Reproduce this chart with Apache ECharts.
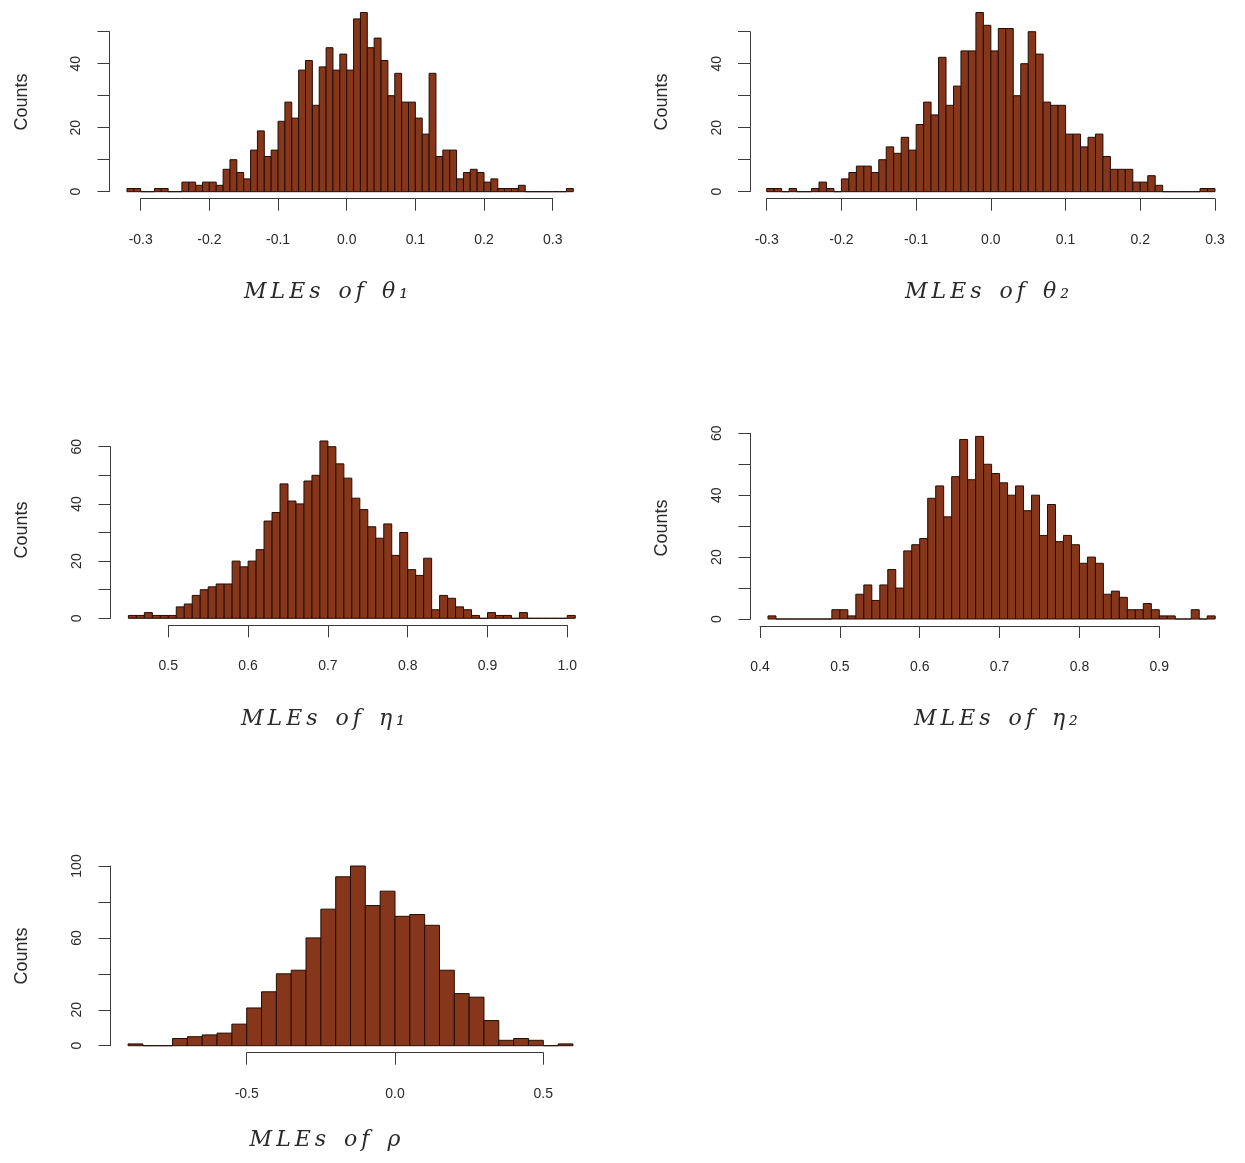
<!DOCTYPE html>
<html>
<head>
<meta charset="utf-8">
<title>MLEs</title>
<script src="https://cdn.jsdelivr.net/npm/echarts@6/dist/echarts.min.js"></script>
<style>
  body { margin: 0; background: #fff; }
  #grafico { width: 1245px; height: 1163px; }
</style>
</head>
<body>
<div id="grafico"></div>
<script>
// ---------------- DATOS ----------------
// Conteos por clase, leidos del histograma original
const conteosTheta1 = [1,1,0,0,1,1,0,0,3,3, 2,3,3,2,7,10,6,4,13,19, 11,13,22,28,23,38,41,27,39,45,
  38,43,38,54,56,45,48,41,30,37, 28,28,23,18,37,11,13,13,4,6, 7,6,3,4,1,1,1,2,0,0, 0,0,0,0,1];
const conteosTheta2 = [1,1,0,1,0,0,1,3,1,0, 4,6,8,8,6,10,14,12,17,13, 21,28,24,42,27,33,44,44,56,52,
  44,51,51,30,40,50,43,28,27,27, 18,18,14,17,18,11,7,7,7,3, 3,5,2,0,0,0,0,0,1,1];
const conteosEta1 = [1,1,2,1,1,1,4,5,8,10, 11,12,12,20,18,20,24,34,37,47, 41,40,48,50,62,60,54,49,42,38,
  32,28,33,22,30,17,15,21,3,8, 7,4,3,1,0,2,1,1,0,2, 0,0,0,0,0,1];
const conteosEta2 = [1,0,0,0,0,0,0,0,3,3, 1,8,11,6,11,16,10,22,24,26, 39,43,33,46,58,45,59,50,47,44,
  40,43,35,40,27,37,25,27,24,18, 20,18,8,9,7,3,3,5,3,1, 1,0,0,3,0,1];
const conteosRho = [1,0,0,4,5,6,7,12,21,30, 40,42,60,76,94,100,78,86,72,73, 67,42,29,27,14,3,4,3,0,1];

// Inicio y ancho de las clases
const clasesTheta1 = [-0.32, 0.01];
const clasesTheta2 = [-0.30, 0.01];
const clasesEta1 = [0.45, 0.01];
const clasesEta2 = [0.41, 0.01];
const clasesRho = [-0.9, 0.05];

// Ejes: [min, max, paso]
const ejeXTheta = [-0.3, 0.3, 0.1];
const ejeXEta1 = [0.5, 1.0, 0.1];
const ejeXEta2 = [0.4, 0.9, 0.1];
const ejeXRho = [-0.5, 0.5, 0.5];
const ejeYTheta = [0, 50, 10];
const ejeYEta = [0, 60, 10];
const ejeYRho = [0, 100, 20];

// Etiquetas visibles del eje Y
const etiquetasYTheta = [0, 20, 40];
const etiquetasYEta = [0, 20, 40, 60];
const etiquetasYRho = [0, 20, 60, 100];

// Titulos
const titulos = ["MLEs of θ₁", "MLEs of θ₂", "MLEs of η₁", "MLEs of η₂", "MLEs of ρ"];

// ---------------- DISPOSICION ----------------
// anclas en pixeles de cada panel (valor x -> px, y de la base y del tope)
const paneles = [
  { conteos: conteosTheta1, clases: clasesTheta1, ejeX: ejeXTheta, ejeY: ejeYTheta, etiquetasY: etiquetasYTheta,
    xa: [-0.3, 140.7], xb: [0.3, 552.7], base: 191.7, tope: 31.7, lineaY: 109.5,
    titulo: titulos[0], tituloPos: [326, 292], countsPos: [22, 102] },
  { conteos: conteosTheta2, clases: clasesTheta2, ejeX: ejeXTheta, ejeY: ejeYTheta, etiquetasY: etiquetasYTheta,
    xa: [-0.3, 766.7], xb: [0.3, 1215], base: 191.7, tope: 31.7, lineaY: 750,
    titulo: titulos[1], tituloPos: [987, 292], countsPos: [662, 102] },
  { conteos: conteosEta1, clases: clasesEta1, ejeX: ejeXEta1, ejeY: ejeYEta, etiquetasY: etiquetasYEta,
    xa: [0.5, 168.3], xb: [1.0, 567.3], base: 618.3, tope: 446.7, lineaY: 110.5,
    titulo: titulos[2], tituloPos: [323, 719], countsPos: [22, 530] },
  { conteos: conteosEta2, clases: clasesEta2, ejeX: ejeXEta2, ejeY: ejeYEta, etiquetasY: etiquetasYEta,
    xa: [0.4, 760], xb: [0.9, 1159.3], base: 619, tope: 433.3, lineaY: 750.5,
    titulo: titulos[3], tituloPos: [996, 719], countsPos: [662, 528] },
  { conteos: conteosRho, clases: clasesRho, ejeX: ejeXRho, ejeY: ejeYRho, etiquetasY: etiquetasYRho,
    xa: [-0.5, 246.7], xb: [0.5, 543.3], base: 1045.7, tope: 866, lineaY: 110.5,
    titulo: titulos[4], tituloPos: [325, 1140], countsPos: [22, 956] }
];

const colorEje = "#3a3a3a";
const colorTexto = "#2a2a2a";

// Dibuja una barra del histograma usando las escalas del eje
function dibujarBarra(params, api) {
  let arriba = api.coord([api.value(0), api.value(2)]);
  let abajo = api.coord([api.value(1), 0]);
  return {
    type: "rect",
    shape: { x: arriba[0], y: arriba[1], width: abajo[0] - arriba[0], height: abajo[1] - arriba[1] },
    style: { fill: "#86361a", stroke: "#260d04", lineWidth: 1 }
  };
}

// Titulo con letras algo separadas (estilo matematico)
function textoTitulo(t) {
  return t.split("").map(c => (c === " " ? "  " : "{l|" + c + "}")).join("");
}

function cargarGrafico() {
  let grid = [], xAxis = [], yAxis = [], series = [], graphic = [];

  paneles.forEach((p, i) => {
    let escala = (p.xb[1] - p.xa[1]) / (p.xb[0] - p.xa[0]);
    let aPx = v => p.xa[1] + (v - p.xa[0]) * escala;
    let inicio = p.clases[0], ancho = p.clases[1];
    let fin = inicio + p.conteos.length * ancho;
    let alto = p.base - p.tope;
    let gb = 2 * i, ge = 2 * i + 1;

    // grid de las barras y grid del eje x (el eje x solo cubre sus marcas)
    grid.push({ left: aPx(inicio), top: p.tope, width: aPx(fin) - aPx(inicio), height: alto });
    grid.push({ left: aPx(p.ejeX[0]), top: p.tope, width: aPx(p.ejeX[1]) - aPx(p.ejeX[0]), height: alto });

    xAxis.push({ gridIndex: gb, type: "value", min: inicio, max: fin, show: false });
    xAxis.push({
      gridIndex: ge, type: "value", min: p.ejeX[0], max: p.ejeX[1], interval: p.ejeX[2],
      offset: 7,
      axisLine: { show: true, onZero: false, lineStyle: { color: colorEje, width: 1 } },
      axisTick: { show: true, length: 12, lineStyle: { color: colorEje } },
      splitLine: { show: false },
      axisLabel: {
        margin: 34, fontSize: 14, fontFamily: "Liberation Sans", color: colorTexto,
        formatter: v => (Math.abs(v) < 1e-9 ? "0.0" : v.toFixed(1))
      }
    });

    yAxis.push({
      gridIndex: gb, type: "value", min: p.ejeY[0], max: p.ejeY[1], interval: p.ejeY[2],
      offset: aPx(inicio) - p.lineaY,
      axisLine: { show: true, onZero: false, lineStyle: { color: colorEje, width: 1 } },
      axisTick: { show: true, length: 12, lineStyle: { color: colorEje } },
      splitLine: { show: false },
      axisLabel: {
        rotate: 90, margin: 26, fontSize: 14, fontFamily: "Liberation Sans", color: colorTexto,
        formatter: v => (p.etiquetasY.indexOf(Math.round(v)) >= 0 ? String(Math.round(v)) : "")
      }
    });
    yAxis.push({ gridIndex: ge, type: "value", min: p.ejeY[0], max: p.ejeY[1], show: false });

    series.push({
      type: "custom",
      xAxisIndex: gb,
      yAxisIndex: gb,
      silent: true,
      renderItem: dibujarBarra,
      data: p.conteos.map((c, k) => [inicio + k * ancho, inicio + (k + 1) * ancho, c])
    });

    // "Counts" vertical
    graphic.push({
      type: "text", x: p.countsPos[0], y: p.countsPos[1], rotation: Math.PI / 2,
      style: { text: "Counts", fontSize: 18, fontFamily: "Liberation Sans", fill: colorTexto,
        align: "center", verticalAlign: "middle" }
    });
    // titulo del eje x
    graphic.push({
      type: "text", x: p.tituloPos[0], y: p.tituloPos[1],
      style: {
        text: textoTitulo(p.titulo), align: "center", verticalAlign: "middle",
        fontSize: 22, fontFamily: "DejaVu Serif", fontStyle: "italic", fill: colorTexto,
        rich: { l: { fontSize: 22, fontFamily: "DejaVu Serif", fontStyle: "italic", color: colorTexto, padding: [0, 2] } }
      }
    });
  });

  echarts.init(document.querySelector("#grafico")).setOption({
    backgroundColor: "#fff",
    animation: false,
    grid: grid,
    xAxis: xAxis,
    yAxis: yAxis,
    series: series,
    graphic: graphic
  });
}

cargarGrafico();
</script>
</body>
</html>
